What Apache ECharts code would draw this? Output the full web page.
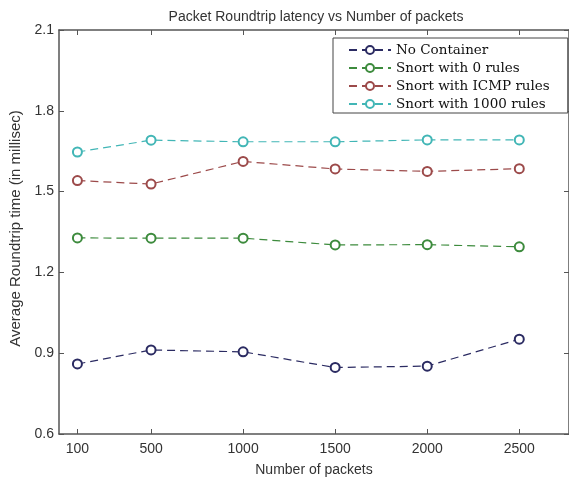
<!DOCTYPE html>
<html>
<head>
<meta charset="utf-8">
<script src="https://cdn.jsdelivr.net/npm/echarts@6/dist/echarts.min.js"></script>
<style>html,body{margin:0;padding:0;background:#fff;}#c{width:569px;height:482px;}</style>
</head>
<body>
<div id="c"></div>
<script>
const packets = [100, 500, 1000, 1500, 2000, 2500];
const seriesNames = ['No Container', 'Snort with 0 rules', 'Snort with ICMP rules', 'Snort with 1000 rules'];
const noContainer = [0.86, 0.912, 0.905, 0.847, 0.852, 0.952];
const snort0 = [1.328, 1.327, 1.327, 1.302, 1.303, 1.295];
const snortICMP = [1.541, 1.528, 1.612, 1.584, 1.575, 1.585];
const snort1000 = [1.647, 1.691, 1.685, 1.685, 1.692, 1.692];
const yTicks = [0.6, 0.9, 1.2, 1.5, 1.8, 2.1];
const colors = ['#2b2b62', '#3d8b3d', '#9c4a4a', '#42b6b6'];
const allValues = [noContainer, snort0, snortICMP, snort1000];

const chart = echarts.init(document.getElementById('c'));
const axisFont = { fontFamily: 'Liberation Sans, Arial, sans-serif', fontSize: 14, color: '#333' };
function xAxisDef(pos, withLabels) {
  return {
    type: 'value', min: 0, max: 2770, position: pos,
    axisLine: { show: true, onZero: false, lineStyle: { color: '#555', width: 1.5 } },
    axisTick: { show: true, inside: true, length: 5, customValues: packets, lineStyle: { color: '#555' } },
    axisLabel: withLabels ? Object.assign({ show: true, customValues: packets, margin: 8, formatter: v => String(v) }, axisFont) : { show: false },
    splitLine: { show: false }
  };
}
function yAxisDef(pos, withLabels) {
  return {
    type: 'value', min: 0.6, max: 2.1, position: pos,
    axisLine: { show: true, onZero: false, lineStyle: { color: '#555', width: 1.5 } },
    axisTick: { show: true, inside: true, length: 5, customValues: yTicks, lineStyle: { color: '#555' } },
    axisLabel: withLabels ? Object.assign({ show: true, customValues: yTicks, margin: 5, formatter: v => v.toFixed(1) }, axisFont) : { show: false },
    splitLine: { show: false }
  };
}
const xBottom = Object.assign(xAxisDef('bottom', true), {
  name: 'Number of packets', nameLocation: 'middle', nameGap: 29, nameTextStyle: axisFont
});
const yLeft = Object.assign(yAxisDef('left', true), {
  name: 'Average Roundtrip time (in millisec)', nameLocation: 'middle', nameGap: 36,
  nameTextStyle: Object.assign({}, axisFont, { fontSize: 15, padding: [0, 0, 0, 7] })
});
chart.setOption({
  animation: false,
  backgroundColor: '#fff',
  title: {
    text: 'Packet Roundtrip latency vs Number of packets',
    left: 311, top: 5, textAlign: 'center',
    textStyle: { fontFamily: 'Liberation Sans, Arial, sans-serif', fontSize: 14, fontWeight: 'normal', color: '#333' }
  },
  legend: {
    orient: 'vertical', left: 333, top: 38,
    padding: [5, 18, 2, 15], itemGap: 4, itemWidth: 42, itemHeight: 10,
    backgroundColor: '#fff', borderColor: '#444', borderWidth: 1, borderRadius: 0,
    textStyle: { fontFamily: 'DejaVu Serif, serif', fontSize: 13.5, color: '#111' },
    data: seriesNames
  },
  grid: { left: 56, top: 30, right: -1, bottom: 47, containLabel: false },
  xAxis: [xBottom, xAxisDef('top', false)],
  yAxis: [yLeft, yAxisDef('right', false)],
  series: seriesNames.map((name, i) => ({
    name: name, type: 'line',
    data: packets.map((p, j) => [p, allValues[i][j]]),
    symbol: 'emptyCircle', symbolSize: 9,
    color: colors[i],
    lineStyle: { color: colors[i], width: 1.2, type: [8, 5] },
    itemStyle: { color: colors[i], borderColor: colors[i], borderWidth: 1.2 },
    xAxisIndex: 0, yAxisIndex: 0
  }))
});
</script>
</body>
</html>
